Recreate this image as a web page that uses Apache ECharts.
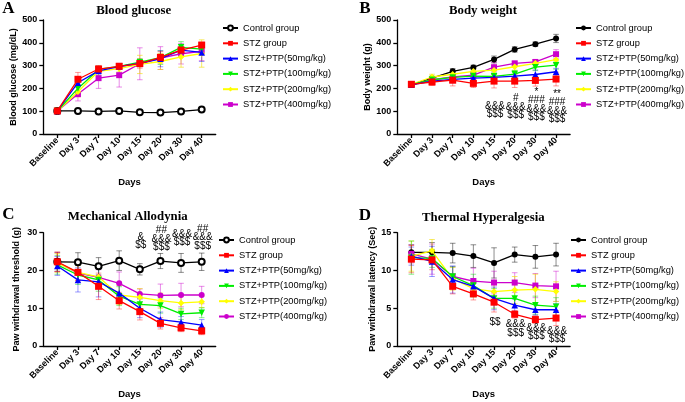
<!DOCTYPE html>
<html><head><meta charset="utf-8">
<script src="https://cdn.jsdelivr.net/npm/echarts@6/dist/echarts.min.js"></script>
<style>html,body{margin:0;padding:0;background:#fff}#c{width:685px;height:402px}</style>
</head><body><div id="c"></div>
<script>
const days = ['Baseline','Day 3','Day 7','Day 10','Day 15','Day 20','Day 30','Day 40'];
const groups = ['Control group','STZ group','STZ+PTP(50mg/kg)','STZ+PTP(100mg/kg)','STZ+PTP(200mg/kg)','STZ+PTP(400mg/kg)'];
const panelTitles = ['Blood glucose','Body weight','Mechanical Allodynia','Thermal Hyperalgesia'];
const panelLetters = ['A','B','C','D'];
const yNames = ['Blood glucose (mg/dL)','Body weight (g)','Paw withdrawal threshold (g)','Paw withdrawal latency (Sec)'];
const yTicks = [[0,100,200,300,400,500],[0,100,200,300,400,500],[0,10,20,30],[0,5,10,15]];

// rows follow `groups`
const glucoseMean = [
  [101,101,99,101,95,94,99,107],
  [101,240,285,297,309,336,368,390],
  [101,225,277,296,310,330,368,358],
  [101,200,283,297,315,335,380,372],
  [100,185,275,287,305,318,338,353],
  [101,175,245,258,308,333,352,362]
];
const glucoseSD = [
  [5,4,4,5,4,4,5,5],
  [8,30,15,12,20,25,15,12],
  [8,15,15,10,15,35,15,40],
  [8,25,15,10,15,30,25,20],
  [10,22,20,15,40,35,45,60],
  [8,30,45,52,70,50,45,40]
];
const weightMean = [
  [216,245,275,292,327,371,394,419],
  [218,228,236,222,232,232,235,241],
  [216,232,240,245,248,254,261,273],
  [216,238,248,254,253,263,293,302],
  [218,250,262,275,280,295,310,326],
  [216,238,250,258,293,310,316,350]
];
const weightSD = [
  [8,8,12,10,15,12,10,18],
  [10,15,25,18,30,28,25,30],
  [8,12,15,12,15,18,20,15],
  [8,10,12,12,15,15,15,18],
  [8,12,12,12,15,15,15,15],
  [8,12,12,12,20,8,10,20]
];
const mechMean = [
  [22.3,22.2,21.1,22.6,20.3,22.5,22.0,22.3],
  [22.3,19.5,15.8,12.0,9.1,6.0,4.8,4.0],
  [21.2,17.5,17.0,14.0,10.0,7.0,6.3,5.5],
  [21.5,18.8,17.5,13.2,11.0,10.7,8.5,8.8],
  [22.0,19.5,18.3,13.5,12.9,12.0,11.4,11.7],
  [22.2,19.3,18.2,16.6,13.8,13.4,13.5,13.5]
];
const mechSD = [
  [2.5,2.5,2.3,2.6,1.5,2.0,2.5,2.3],
  [2.6,2.2,3.5,2.2,2.2,1.5,1.0,1.0],
  [2.5,3.2,4.0,2.5,2.5,2.0,1.5,1.5],
  [2.5,2.5,3.0,2.5,2.0,2.0,1.5,1.3],
  [2.5,2.0,2.5,2.5,2.3,2.0,1.8,1.5],
  [2.5,2.0,2.0,3.0,1.3,3.0,3.1,2.3]
];
const thermMean = [
  [12.4,12.4,12.3,11.9,11.0,12.1,11.8,12.1],
  [11.5,11.4,7.9,6.9,5.8,4.2,3.5,3.7],
  [11.9,11.2,8.8,7.9,6.3,5.4,4.8,4.8],
  [11.7,11.6,9.2,8.0,6.3,6.3,5.4,5.2],
  [11.9,12.6,8.9,7.6,7.2,7.4,7.5,7.2],
  [12.2,11.5,9.2,8.6,8.4,8.4,8.0,7.9]
];
const thermSD = [
  [1.0,1.3,1.3,1.5,2.0,1.0,1.5,1.5],
  [1.8,1.3,1.0,0.8,1.3,0.5,0.5,1.0],
  [1.2,2.0,1.8,1.0,1.5,0.8,0.7,0.8],
  [2.2,1.2,1.3,1.5,1.3,1.2,1.2,1.2],
  [2.0,1.5,1.5,1.0,1.2,1.8,2.0,1.3],
  [1.2,2.0,1.3,1.7,1.5,1.3,1.6,2.0]
];
// significance marks: [day index, value at text anchor, text]
const glucoseMarks = [];
const weightMarks = [[4,67,'&&&\n$$$'],[5,64,'#\n&&&\n$$$'],[6,55,'*\n###\n&&&\n$$$'],[7,47,'**\n###\n&&&\n$$$']];
const mechMarks = [[4,25.6,'&\n$$'],[5,25.1,'##\n&&&\n$$$'],[6,26.4,'&&&\n$$$'],[7,25.4,'##\n&&&\n$$$']];
const thermMarks = [[4,3.75,'$$'],[5,3.4,'&&&\n$$$'],[6,2.96,'&&&\n$$$'],[7,2.52,'&&&\n$$$']];

const means = [glucoseMean, weightMean, mechMean, thermMean];
const sds = [glucoseSD, weightSD, mechSD, thermSD];
const marks = [glucoseMarks, weightMarks, mechMarks, thermMarks];

const colors = ['#000000','#ff0000','#0000ff','#00ee00','#ffff00','#cc00cc'];
const errColors = ['rgba(0,0,0,0.45)','rgba(255,0,0,0.4)','rgba(0,0,255,0.4)','rgba(0,220,0,0.45)','rgba(240,220,0,0.6)','rgba(204,0,204,0.45)'];
const triDown = 'path://M0,0 L10,0 L5,9 Z';
const SANS = '"Liberation Sans", Arial, sans-serif';
const SERIF = '"Liberation Serif", "Times New Roman", serif';

const layout = [
  {grid:{left:43.3, top:20, width:172.4, height:114}, legend:{left:222, top:23}, nameGap:24, title:[133.7,11], letter:[8.5,8.5], hollow:true, sym400:'rect', markAlign:'bottom'},
  {grid:{left:397.3, top:20, width:172.8, height:114}, legend:{left:575, top:23}, nameGap:24, title:[483,11], letter:[365,8.5], hollow:false, sym400:'rect', markAlign:'bottom'},
  {grid:{left:43.3, top:232.7, width:172.4, height:113.3}, legend:{left:218, top:235}, nameGap:22, title:[127.7,216.7], letter:[8.5,214.5], hollow:true, sym400:'circle', markAlign:'bottom'},
  {grid:{left:397.3, top:232.7, width:172.8, height:113.3}, legend:{left:570, top:235}, nameGap:18, title:[483.3,217.7], letter:[365,216], hollow:false, sym400:'rect', markAlign:'top'}
];

const idx = [0,1,2,3,4,5,6,7];
const grids = [], xAxes = [], yAxes = [], legends = [], series = [], graphics = [];

layout.forEach((L, p) => {
  grids.push(Object.assign({containLabel:false}, L.grid));
  const yt = yTicks[p];
  xAxes.push({
    gridIndex:p, type:'value', min:-0.68, max:7.68,
    axisLine:{show:true, onZero:false, lineStyle:{color:'#000', width:1.3}},
    axisTick:{show:true, customValues:idx, length:4, lineStyle:{color:'#000', width:1.3}},
    axisLabel:{customValues:idx, formatter:v => days[Math.round(v)], rotate:45, margin:5,
      fontFamily:SANS, fontWeight:'bold', fontSize:9, color:'#000'},
    splitLine:{show:false},
    name:'Days', nameLocation:'middle', nameGap:43,
    nameTextStyle:{fontFamily:SANS, fontWeight:'bold', fontSize:9.5, color:'#000'}
  });
  yAxes.push({
    gridIndex:p, type:'value', min:yt[0], max:yt[yt.length-1], interval:yt[1]-yt[0],
    axisLine:{show:true, onZero:false, lineStyle:{color:'#000', width:1.3}},
    axisTick:{show:true, length:4, lineStyle:{color:'#000', width:1.3}},
    axisLabel:{margin:6, fontFamily:SANS, fontWeight:'bold', fontSize:9, color:'#000'},
    splitLine:{show:false},
    name:yNames[p], nameLocation:'middle', nameGap:L.nameGap,
    nameTextStyle:{fontFamily:SANS, fontWeight:'bold', fontSize:9, color:'#000'}
  });
  const suffix = ' '.repeat(p);
  legends.push({
    orient:'vertical', left:L.legend.left, top:L.legend.top, itemWidth:15, itemHeight:6, itemGap:5.3,
    selectedMode:false, padding:0,
    data:groups.map(g => g + suffix), formatter:n => n.trim(),
    textStyle:{fontFamily:SANS, fontSize:9.3, color:'#000', lineHeight:10}
  });
  const syms = [L.hollow ? 'emptyCircle' : 'circle', 'rect', 'triangle', triDown, 'diamond', L.sym400];
  const sizes = [6, 7, 6.5, 6.5, 6.5, 6];
  const order = [0,5,4,3,2,1];
  order.forEach((g, k) => {
    const m = means[p][g], s = sds[p][g];
    series.push({
      type:'custom', xAxisIndex:p, yAxisIndex:p, silent:true, z:1,
      data:m.map((v,i) => [i, v, s[i]]),
      encode:{x:0, y:1},
      renderItem:(params, api) => {
        const x = api.value(0), v = api.value(1), e = api.value(2);
        const a = api.coord([x, v + e]), b = api.coord([x, v - e]);
        const w = 2.8, st = {stroke:errColors[g], lineWidth:1};
        return {type:'group', children:[
          {type:'line', shape:{x1:a[0], y1:a[1], x2:b[0], y2:b[1]}, style:st},
          {type:'line', shape:{x1:a[0]-w, y1:a[1], x2:a[0]+w, y2:a[1]}, style:st},
          {type:'line', shape:{x1:b[0]-w, y1:b[1], x2:b[0]+w, y2:b[1]}, style:st}
        ]};
      }
    });
    series.push({
      type:'line', name:groups[g] + suffix, xAxisIndex:p, yAxisIndex:p, z:3 + k,
      data:m.map((v,i) => [i, v]),
      symbol:syms[g], symbolSize:sizes[g],
      itemStyle:{color:colors[g], borderColor:colors[g], borderWidth:g === 0 && L.hollow ? 1.3 : 0},
      lineStyle:{color:colors[g], width:1.3},
      emphasis:{disabled:true}, animation:false
    });
  });
  const mk = marks[p];
  if (mk.length) {
    series.push({
      type:'custom', xAxisIndex:p, yAxisIndex:p, silent:true, z:20, clip:false,
      data:mk.map(d => [d[0], d[1]]),
      encode:{x:0, y:1},
      renderItem:(params, api) => {
        const pt = api.coord([api.value(0), api.value(1)]);
        return {type:'text', x:pt[0] + 1, y:pt[1], style:{
          text:mk[params.dataIndex][2], align:'center', verticalAlign:L.markAlign,
          font:'10px ' + SANS, lineHeight:8.3, fill:'#000'}};
      }
    });
  }
  graphics.push({type:'text', x:L.title[0], y:L.title[1], style:{text:panelTitles[p], align:'center', verticalAlign:'middle',
    font:'bold 12.8px ' + SERIF, fill:'#000'}});
  graphics.push({type:'text', x:L.letter[0], y:L.letter[1], style:{text:panelLetters[p], align:'center', verticalAlign:'middle',
    font:'bold 17px ' + SERIF, fill:'#000'}});
});

const chart = echarts.init(document.getElementById('c'), null, {renderer:'canvas'});
chart.setOption({
  animation:false, backgroundColor:'#fff',
  grid:grids, xAxis:xAxes, yAxis:yAxes, legend:legends, series:series, graphic:graphics
});
</script>
</body></html>
